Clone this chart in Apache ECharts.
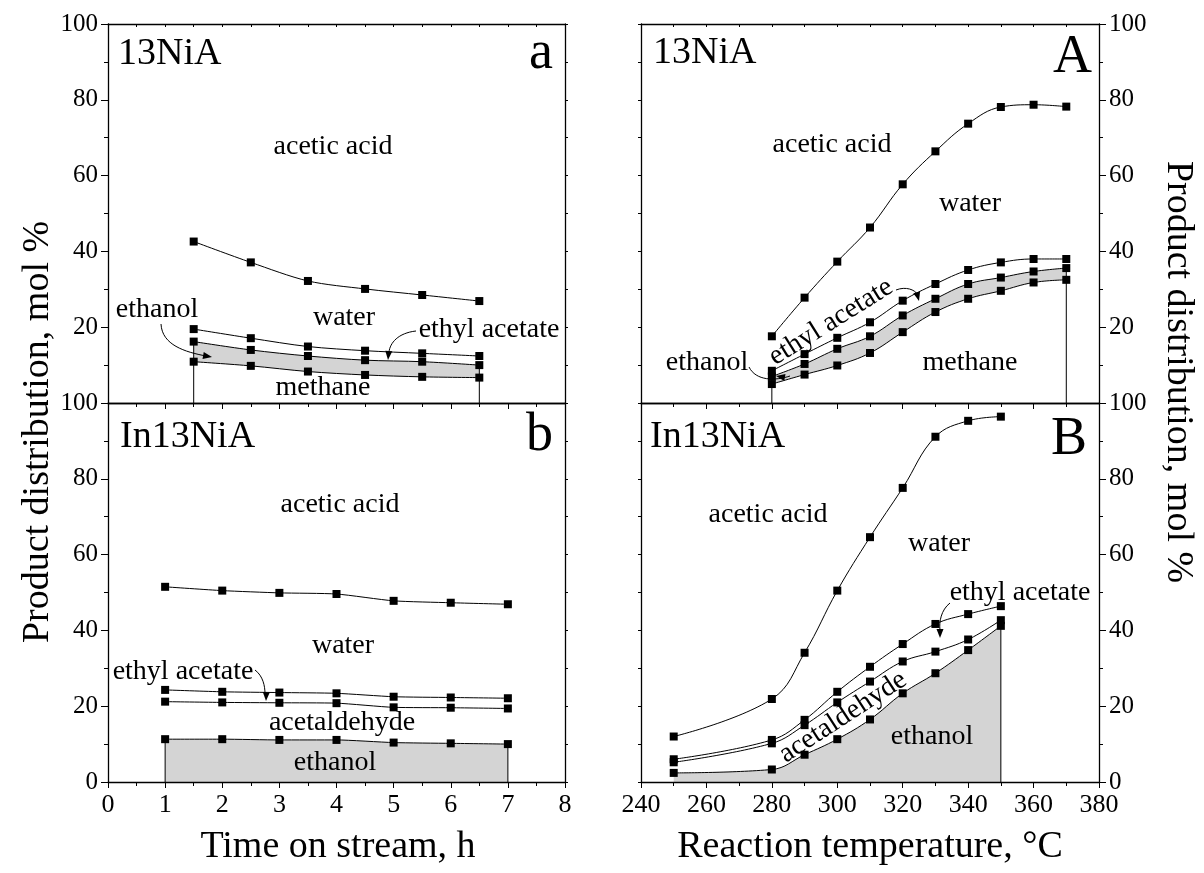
<!DOCTYPE html>
<html>
<head>
<meta charset="utf-8">
<script src="https://cdn.jsdelivr.net/npm/echarts@6/dist/echarts.min.js"></script>
<style>
  html, body { margin: 0; padding: 0; background: #fff; }
  #main { width: 1204px; height: 873px; }
</style>
</head>
<body>
<div id="main"></div>
<script>
// panel a: 13NiA vs time on stream
var timeA = [1.5, 2.5, 3.5, 4.5, 5.5, 6.5];
var aAcidWater = [42.6, 37.1, 32.2, 30.1, 28.5, 26.9];
var aWaterEster = [19.5, 17.1, 14.9, 13.8, 13.1, 12.4];
var aEsterEthanol = [16.2, 14.0, 12.4, 11.3, 10.9, 10.0];
var aEthanolMethane = [10.9, 9.8, 8.3, 7.4, 6.9, 6.7];

// panel b: In13NiA vs time on stream
var timeB = [1, 2, 3, 4, 5, 6, 7];
var bAcidWater = [51.5, 50.5, 49.9, 49.6, 47.8, 47.3, 46.9];
var bWaterEster = [24.3, 23.8, 23.6, 23.4, 22.5, 22.3, 22.1];
var bEsterAld = [21.2, 21.0, 20.9, 20.8, 19.7, 19.6, 19.4];
var bAldEthanol = [11.3, 11.3, 11.1, 11.1, 10.4, 10.2, 10.0];

// panel A: 13NiA vs temperature
var tempA = [280, 290, 300, 310, 320, 330, 340, 350, 360, 370];
var AAcidWater = [17.6, 27.8, 37.3, 46.3, 57.7, 66.4, 73.7, 78.1, 78.7, 78.2];
var AWaterEster = [8.5, 12.9, 17.2, 21.3, 27.0, 31.4, 35.1, 37.1, 38.0, 38.0];
var AEsterEthanol = [7.0, 10.3, 14.3, 17.6, 23.1, 27.5, 31.4, 33.1, 34.7, 35.6];
var AEthanolMethane = [5.0, 7.5, 9.9, 13.2, 18.7, 24.0, 27.5, 29.6, 31.8, 32.5];

// panel B: In13NiA vs temperature
var tempB = [250, 280, 290, 300, 310, 320, 330, 340, 350];
var BAcidWater = [12.0, 21.9, 34.1, 50.5, 64.6, 77.6, 91.1, 95.3, 96.4];
var BWaterEster = [6.0, 11.1, 16.4, 23.8, 30.4, 36.4, 41.7, 44.3, 46.4];
var BEsterAld = [5.2, 10.2, 15.0, 21.0, 26.5, 31.8, 34.4, 37.6, 42.7];
var BAldEthanol = [2.4, 3.3, 7.2, 11.3, 16.5, 23.4, 28.7, 34.8, 41.2];

var timeTicks = [0, 8, 1];
var tempTicks = [240, 380, 20];
var yTicks = [0, 100, 20];

var FONT = '"Liberation Serif", "Times New Roman", serif';
var GRAY = '#d4d4d4';

function pairs(xs, ys) {
  return xs.map(function (x, i) { return [x, ys[i]]; });
}

var grids = [
  { left: 108, top: 24, width: 457, height: 379 },
  { left: 108, top: 403, width: 457, height: 379 },
  { left: 641, top: 24, width: 458, height: 379 },
  { left: 641, top: 403, width: 458, height: 379 }
];

var xAxes = [];
var yAxes = [];
grids.forEach(function (g, gi) {
  var t = gi < 2 ? timeTicks : tempTicks;
  var isBottom = gi === 1 || gi === 3;
  var isRight = gi >= 2;
  // bottom x
  xAxes.push({
    gridIndex: gi, type: 'value', min: t[0], max: t[1], interval: t[2], position: 'bottom', z: 6,
    axisLine: { show: true, onZero: false, lineStyle: { color: '#000', width: 1.3 } },
    axisTick: { show: true, inside: false, length: 6, lineStyle: { color: '#000' } },
    minorTick: { show: true, splitNumber: 2, length: 4, lineStyle: { color: '#000' } },
    splitLine: { show: false },
    axisLabel: { show: isBottom, fontFamily: FONT, fontSize: 26, color: '#000', margin: 10 }
  });
  // top x
  xAxes.push({
    gridIndex: gi, type: 'value', min: t[0], max: t[1], interval: t[2], position: 'top', z: 6,
    axisLine: { show: true, onZero: false, lineStyle: { color: '#000', width: 1.3 } },
    axisTick: { show: gi === 0 || gi === 2, inside: true, length: 3, lineStyle: { color: '#000' } },
    minorTick: { show: gi === 0 || gi === 2, splitNumber: 2, length: 3, lineStyle: { color: '#000' } },
    splitLine: { show: false },
    axisLabel: { show: false }
  });
  // left y
  yAxes.push({
    gridIndex: gi, type: 'value', min: yTicks[0], max: yTicks[1], interval: yTicks[2], position: 'left', z: 6,
    axisLine: { show: true, onZero: false, lineStyle: { color: '#000', width: 1.3 } },
    axisTick: { show: true, inside: false, length: isRight ? 3 : 7, lineStyle: { color: '#000' } },
    minorTick: { show: true, splitNumber: 2, length: isRight ? 3 : 4, lineStyle: { color: '#000' } },
    splitLine: { show: false },
    axisLabel: { show: !isRight, showMinLabel: isBottom, fontFamily: FONT, fontSize: 25, color: '#000', margin: 10 }
  });
  // right y
  yAxes.push({
    gridIndex: gi, type: 'value', min: yTicks[0], max: yTicks[1], interval: yTicks[2], position: 'right', z: 6,
    axisLine: { show: true, onZero: false, lineStyle: { color: '#000', width: 1.3 } },
    axisTick: { show: true, inside: false, length: isRight ? 7 : 3, lineStyle: { color: '#000' } },
    minorTick: { show: true, splitNumber: 2, length: isRight ? 4 : 3, lineStyle: { color: '#000' } },
    splitLine: { show: false },
    axisLabel: { show: isRight, showMinLabel: isBottom, fontFamily: FONT, fontSize: 25, color: '#000', margin: 10 }
  });
});

var series = [];

function dataLine(gi, xs, ys, smooth) {
  series.push({
    type: 'line', xAxisIndex: 2 * gi, yAxisIndex: 2 * gi,
    data: pairs(xs, ys), smooth: smooth, z: 4,
    symbol: 'rect', symbolSize: 8, itemStyle: { color: '#000' },
    lineStyle: { color: '#000', width: 1 }, silent: true
  });
}

// filled area from a boundary down to the x axis
function areaToZero(gi, xs, ys, smooth, color) {
  series.push({
    type: 'line', xAxisIndex: 2 * gi, yAxisIndex: 2 * gi,
    data: pairs(xs, ys), smooth: smooth, symbol: 'none', z: 1,
    lineStyle: { opacity: 0 }, areaStyle: { color: color, opacity: 1, origin: 'start' }, silent: true
  });
}

// gray band between two boundaries: gray to zero, then white under the lower one
function band(gi, xs, lower, upper, smooth) {
  areaToZero(gi, xs, upper, smooth, GRAY);
  areaToZero(gi, xs, lower, smooth, '#fff');
}

function dropLine(gi, x, y) {
  series.push({
    type: 'line', xAxisIndex: 2 * gi, yAxisIndex: 2 * gi,
    data: [[x, 0], [x, y]], symbol: 'none', z: 3,
    lineStyle: { color: '#000', width: 1 }, silent: true
  });
}

// panel a
band(0, timeA, aEthanolMethane, aEsterEthanol, 0.3);
dropLine(0, timeA[0], aEsterEthanol[0]);
dropLine(0, timeA[timeA.length - 1], aEsterEthanol[aEsterEthanol.length - 1]);
[aAcidWater, aWaterEster, aEsterEthanol, aEthanolMethane].forEach(function (s) { dataLine(0, timeA, s, 0.3); });

// panel b
areaToZero(1, timeB, bAldEthanol, 0.2, GRAY);
dropLine(1, timeB[0], bAldEthanol[0]);
dropLine(1, timeB[timeB.length - 1], bAldEthanol[bAldEthanol.length - 1]);
[bAcidWater, bWaterEster, bEsterAld, bAldEthanol].forEach(function (s) { dataLine(1, timeB, s, 0.2); });

// panel A
band(2, tempA, AEthanolMethane, AEsterEthanol, 0.4);
dropLine(2, tempA[0], AEsterEthanol[0]);
dropLine(2, tempA[tempA.length - 1], AEsterEthanol[AEsterEthanol.length - 1]);
[AAcidWater, AWaterEster, AEsterEthanol, AEthanolMethane].forEach(function (s) { dataLine(2, tempA, s, 0.4); });

// panel B
areaToZero(3, tempB, BAldEthanol, 0.4, GRAY);
dropLine(3, tempB[tempB.length - 1], BAldEthanol[BAldEthanol.length - 1]);
[BAcidWater, BWaterEster, BEsterAld, BAldEthanol].forEach(function (s) { dataLine(3, tempB, s, 0.4); });

// annotations
function txt(s, x, y, size, align, rot) {
  return {
    type: 'text', x: x, y: y, rotation: (rot || 0) * Math.PI / 180, z: 10,
    style: {
      text: s, font: size + 'px ' + FONT, fill: '#000',
      textAlign: align || 'center', textVerticalAlign: 'middle',
      align: align || 'center', verticalAlign: 'middle'
    }
  };
}
function curve(x1, y1, c1x, c1y, c2x, c2y, x2, y2) {
  return {
    type: 'bezierCurve', z: 10,
    shape: { x1: x1, y1: y1, cpx1: c1x, cpy1: c1y, cpx2: c2x, cpy2: c2y, x2: x2, y2: y2 },
    style: { stroke: '#000', fill: null, lineWidth: 1 }
  };
}
function head(tx, ty, dir) {
  // small arrowhead with tip at (tx, ty), dir in degrees (0 = pointing right, 90 = down)
  var a = dir * Math.PI / 180, L = 9, W = 3.5;
  var bx = tx - L * Math.cos(a), by = ty - L * Math.sin(a);
  var px = -Math.sin(a) * W, py = Math.cos(a) * W;
  return {
    type: 'polygon', z: 10,
    shape: { points: [[tx, ty], [bx + px, by + py], [bx - px, by - py]] },
    style: { fill: '#000' }
  };
}

var graphics = [
  // panel a
  txt('13NiA', 118, 54, 38, 'left'),
  txt('a', 553, 54, 54, 'right'),
  txt('acetic acid', 333, 147, 28),
  txt('ethanol', 157, 310, 28),
  txt('water', 344, 318, 28),
  txt('ethyl acetate', 489, 330, 28),
  txt('methane', 323, 388, 28),
  curve(161, 324, 162, 345, 185, 352, 206, 356), head(212, 357, 10),
  curve(416, 331, 398, 333, 390, 343, 389, 352), head(388, 360, 95),
  // panel b
  txt('In13NiA', 120, 437, 38, 'left'),
  txt('b', 553, 436, 54, 'right'),
  txt('acetic acid', 340, 505, 28),
  txt('water', 343, 646, 28),
  txt('ethyl acetate', 183, 672, 28),
  txt('acetaldehyde', 342, 723, 28),
  txt('ethanol', 335, 763, 28),
  curve(255, 670, 263, 676, 265, 686, 265, 694), head(266, 701, 92),
  // panel A
  txt('13NiA', 653, 53, 38, 'left'),
  txt('A', 1092, 58, 54, 'right'),
  txt('acetic acid', 832, 145, 28),
  txt('water', 970, 204, 28),
  txt('ethyl acetate', 831, 322, 28, 'center', 32),
  txt('ethanol', 707, 363, 28),
  txt('methane', 970, 363, 28),
  curve(896, 290, 906, 286, 915, 290, 917, 294), head(919, 301, 75),
  curve(749, 367, 756, 381, 775, 381, 790, 376), head(776, 376, 190),
  // panel B
  txt('In13NiA', 650, 437, 38, 'left'),
  txt('B', 1087, 440, 54, 'right'),
  txt('acetic acid', 768, 515, 28),
  txt('water', 939, 544, 28),
  txt('ethyl acetate', 1020, 593, 28),
  txt('acetaldehyde', 843, 717, 28, 'center', 33),
  txt('ethanol', 932, 737, 28),
  curve(950, 603, 941, 610, 939, 622, 940, 630), head(940, 638, 90),
  // axis titles
  txt('Time on stream, h', 338, 847, 38),
  txt('Reaction temperature, \u00B0C', 870, 847, 38),
  txt('Product distribution, mol %', 38, 432, 38, 'center', 90),
  txt('Product distribution, mol %', 1178, 372, 38, 'center', -90)
];

var chart = echarts.init(document.getElementById('main'), null, { renderer: 'canvas' });
chart.setOption({
  animation: false,
  backgroundColor: '#fff',
  textStyle: { fontFamily: FONT },
  grid: grids,
  xAxis: xAxes,
  yAxis: yAxes,
  series: series,
  graphic: { elements: graphics }
});
</script>
</body>
</html>
